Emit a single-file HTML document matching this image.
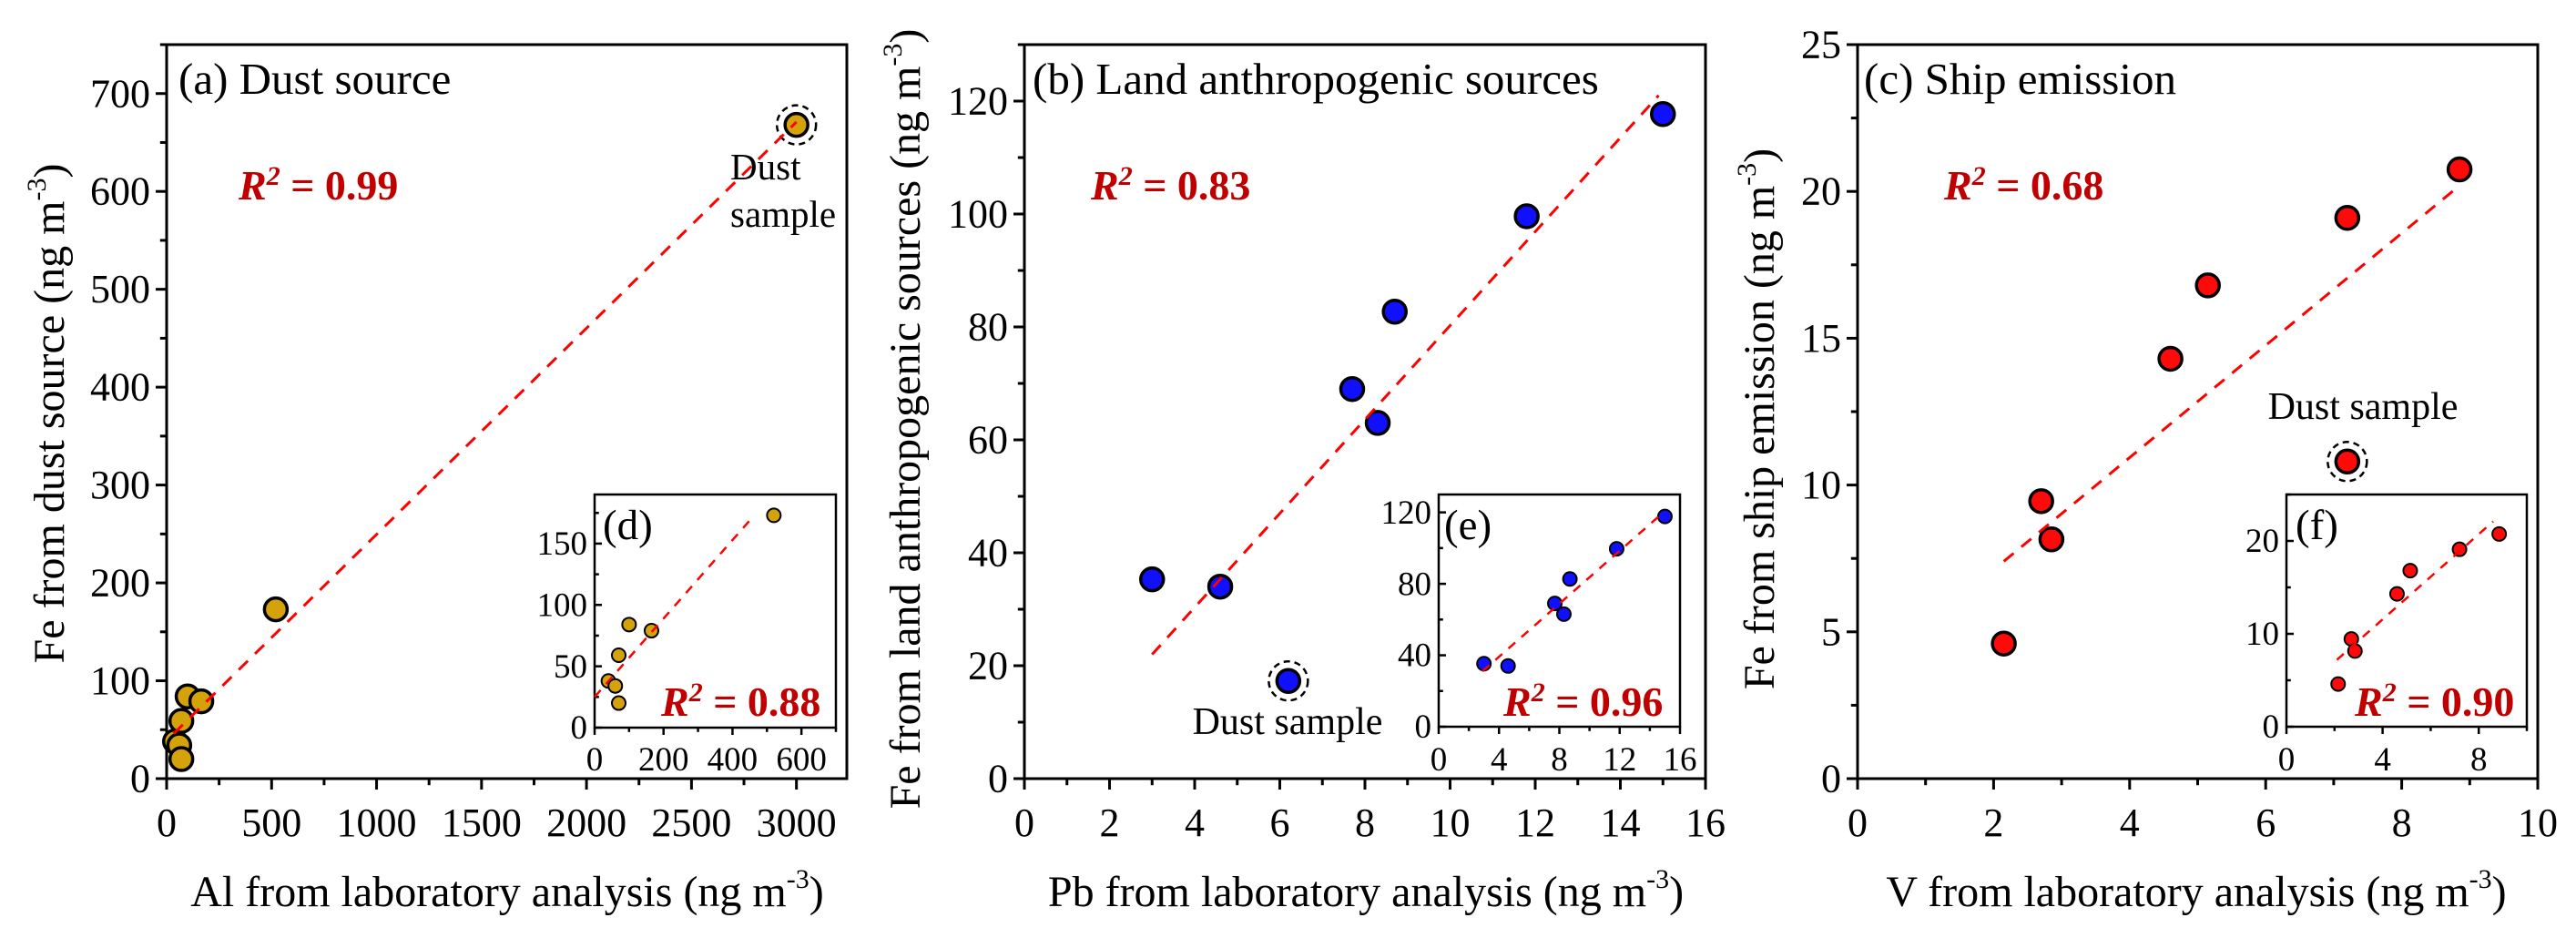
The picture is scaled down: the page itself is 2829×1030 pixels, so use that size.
<!DOCTYPE html>
<html><head><meta charset="utf-8">
<style>
html,body{margin:0;padding:0;background:#fff;}
svg{display:block;font-family:"Liberation Serif",serif;}
</style></head>
<body>
<svg id="fig" width="2829" height="1030" viewBox="0 0 2829 1030"></svg>
<script>
// ---------- data ----------
const aX = [40, 60, 70, 70, 100, 165, 520];
const aY = [38, 34, 20, 59, 84, 79, 173];
const aDustX = [3000];
const aDustY = [668];
const aFitX = [34, 3000];
const aFitY = [46, 671];
const dFitX = [0, 463];
const dFitY = [25, 173];

const bX = [3.0, 4.6, 7.7, 8.3, 8.7, 11.8, 15.0];
const bY = [35.3, 34.0, 69.0, 63.0, 82.7, 99.6, 117.7];
const bDustX = [6.2];
const bDustY = [17.3];
const bFitX = [3.0, 14.9];
const bFitY = [22, 121];
const eFitX = [2.9, 14.9];
const eFitY = [31, 120];

const cX = [2.15, 2.7, 2.85, 4.6, 5.15, 7.2, 8.85];
const cY = [4.6, 9.45, 8.15, 14.3, 16.8, 19.1, 20.75];
const cDustX = [7.2];
const cDustY = [10.8];
const cFitX = [2.15, 8.85];
const cFitY = [7.4, 20.2];
const fFitX = [2.1, 8.6];
const fFitY = [7.2, 22.1];

const aXTicks = [0, 500, 1000, 1500, 2000, 2500, 3000];
const aYTicks = [0, 100, 200, 300, 400, 500, 600, 700];
const bXTicks = [0, 2, 4, 6, 8, 10, 12, 14, 16];
const bYTicks = [0, 20, 40, 60, 80, 100, 120];
const cXTicks = [0, 2, 4, 6, 8, 10];
const cYTicks = [0, 5, 10, 15, 20, 25];
const dXTicks = [0, 200, 400, 600];
const dYTicks = [0, 50, 100, 150];
const eXTicks = [0, 4, 8, 12, 16];
const eYTicks = [0, 40, 80, 120];
const fXTicks = [0, 4, 8];
const fYTicks = [0, 10, 20];

const NS = "http://www.w3.org/2000/svg";
const svg = document.getElementById("fig");
function mk(tag, attrs, parent) {
  const e = document.createElementNS(NS, tag);
  for (const k in attrs) e.setAttribute(k, attrs[k]);
  (parent || svg).appendChild(e);
  return e;
}
function scale(d0, d1, r0, r1) { return v => r0 + (v - d0) / (d1 - d0) * (r1 - r0); }

function axes(g, o) {
  const sx = scale(o.xmin, o.xmax, o.L, o.R);
  const sy = scale(o.ymin, o.ymax, o.B, o.T);
  const fr = mk("rect", {x:o.L, y:o.T, width:o.R-o.L, height:o.B-o.T, fill:"#fff", stroke:"#000", "stroke-width":o.sw}, g);
  
  
  const dirY = o.inY ? 1 : -1;
  o.xt.forEach((v) => {
    const x = sx(v);
    const t = mk("line", {x1:x, x2:x, y1:o.B, y2:o.B + o.tl, stroke:"#000", "stroke-width":o.sw}, g);
    
    
    const lb = mk("text", {x:x, y:o.xlY, "text-anchor":"middle", "font-size":o.fs}, g);
    lb.textContent = v;
    
    
    const step = o.xt[1] - o.xt[0];
    const mv = v + step / 2;
    if (mv <= o.xmax) {
      const mx = sx(mv);
      const m = mk("line", {x1:mx, x2:mx, y1:o.B, y2:o.B + o.tl * 0.6, stroke:"#000", "stroke-width":o.sw}, g);
      
      
    }
  });
  o.yt.forEach((v) => {
    const y = sy(v);
    const t = mk("line", {x1:o.L, x2:o.L + dirY * o.tl, y1:y, y2:y, stroke:"#000", "stroke-width":o.sw}, g);
    
    
    const lb = mk("text", {x:o.L - o.ylGap, y:y + o.fs * 0.33, "text-anchor":"end", "font-size":o.fs}, g);
    lb.textContent = v;
    
    
    const step = o.yt[1] - o.yt[0];
    const mv = v + step / 2;
    if (mv <= o.ymax) {
      const my = sy(mv);
      const m = mk("line", {x1:o.L, x2:o.L + dirY * o.tl * 0.6, y1:my, y2:my, stroke:"#000", "stroke-width":o.sw}, g);
      
      
    }
  });
  return {sx, sy};
}

function points(g, s, xs, ys, r, sw, fill, name) {
  xs.forEach((v, i) => {
    const c = mk("circle", {cx:s.sx(v), cy:s.sy(ys[i]), r:r, fill:fill, stroke:"#000", "stroke-width":sw}, g);
    
    
  });
}
function fit(g, s, xs, ys, w, dash, name) {
  const l = mk("line", {x1:s.sx(xs[0]), y1:s.sy(ys[0]), x2:s.sx(xs[1]), y2:s.sy(ys[1]), stroke:"#ff0000", "stroke-width":w, "stroke-dasharray":dash}, g);
  
  
}
function dust(g, s, xs, ys, r, sw, fill, name) {
  xs.forEach((v, i) => {
    const x = s.sx(v), y = s.sy(ys[i]);
    const ring = mk("circle", {cx:x, cy:y, r:r + 9, fill:"none", stroke:"#000", "stroke-width":2.5, "stroke-dasharray":"7 5"}, g);
    
    
    const c = mk("circle", {cx:x, cy:y, r:r, fill:fill, stroke:"#000", "stroke-width":sw}, g);
    
    
  });
}
function text(g, x, y, str, size, name, extra) {
  const t = mk("text", Object.assign({x:x, y:y, "font-size":size}, extra || {}), g);
  t.textContent = str;
  
  
  return t;
}
function r2(g, x, y, val, name) {
  const t = mk("text", {x:x, y:y, "font-size":46, "font-weight":"bold", fill:"#c00000"}, g);
  
  
  const a = mk("tspan", {"font-style":"italic"}, t); a.textContent = "R";
  const b = mk("tspan", {"font-style":"italic", "font-size":30, dy:-16}, t); b.textContent = "2";
  const c = mk("tspan", {dy:16}, t); c.textContent = " = " + val;
}
function xTitle(g, cx, y, lead, name) {
  const t = mk("text", {x:cx, y:y, "font-size":48, "text-anchor":"middle"}, g);
  
  
  const a = mk("tspan", {}, t); a.textContent = lead + " (ng m";
  const b = mk("tspan", {"font-size":30, dy:-20}, t); b.textContent = "-3";
  const c = mk("tspan", {dy:20}, t); c.textContent = ")";
}
function yTitle(g, x, cy, lead, name) {
  const t = mk("text", {x:0, y:0, "font-size":48, "text-anchor":"middle", transform:`translate(${x},${cy}) rotate(-90)`}, g);
  
  
  const a = mk("tspan", {}, t); a.textContent = lead + " (ng m";
  const b = mk("tspan", {"font-size":30, dy:-20}, t); b.textContent = "-3";
  const c = mk("tspan", {dy:20}, t); c.textContent = ")";
}

const GOLD = "#d4a20a", BLUE = "#1010ff", RED = "#ff0a0a";
const DASH = "14 11", DASHS = "10 9";

// ---------- panel a ----------
{
  const g = mk("g", {});  
  const s = axes(g, {name:"panel-a", L:183, R:930, T:49, B:855, xmin:0, xmax:3240, ymin:0, ymax:750, xt:aXTicks, yt:aYTicks, tl:12, sw:3, fs:44, xlY:918, ylGap:18});
  text(g, 196, 103, "(a) Dust source", 49, "panel-a-title");
  r2(g, 262, 219, "0.99", "panel-a-r-squared");
  points(g, s, aX, aY, 12.5, 3.5, GOLD, "panel-a-point");
  dust(g, s, aDustX, aDustY, 12.5, 3.5, GOLD, "panel-a-dust-sample-point");
  fit(g, s, aFitX, aFitY, 3, DASH, "panel-a-fit-line");
  text(g, 802, 197, "Dust", 41, "panel-a-dust-label");
  text(g, 802, 249, "sample", 41, "panel-a-dust-label-2");
  xTitle(g, 557, 995, "Al from laboratory analysis", "panel-a-x-axis-title");
  yTitle(g, 70, 454, "Fe from dust source", "panel-a-y-axis-title");
  const gi = mk("g", {}, g);  
  const si = axes(gi, {name:"inset-d", L:653, R:918, T:543, B:799, xmin:0, xmax:700, ymin:0, ymax:190, xt:dXTicks, yt:dYTicks, tl:8, sw:2.5, fs:37, xlY:846, ylGap:8, inY:true});
  text(gi, 662, 592, "(d)", 47, "inset-d-label");
  points(gi, si, aX, aY, 7.5, 2, GOLD, "inset-d-point");
  fit(gi, si, dFitX, dFitY, 2.5, DASHS, "inset-d-fit-line");
  r2(gi, 726, 786, "0.88", "inset-d-r-squared");
}
// ---------- panel b ----------
{
  const g = mk("g", {});  
  const s = axes(g, {name:"panel-b", L:1125, R:1873, T:49, B:855, xmin:0, xmax:16, ymin:0, ymax:130, xt:bXTicks, yt:bYTicks, tl:12, sw:3, fs:44, xlY:918, ylGap:18});
  text(g, 1134, 103, "(b) Land anthropogenic sources", 49, "panel-b-title");
  r2(g, 1198, 219, "0.83", "panel-b-r-squared");
  points(g, s, bX, bY, 12.5, 3.5, BLUE, "panel-b-point");
  dust(g, s, bDustX, bDustY, 12.5, 3.5, BLUE, "panel-b-dust-sample-point");
  fit(g, s, bFitX, bFitY, 3, DASH, "panel-b-fit-line");
  text(g, 1414, 806, "Dust sample", 42, "panel-b-dust-label", {"text-anchor":"middle"});
  xTitle(g, 1500, 995, "Pb from laboratory analysis", "panel-b-x-axis-title");
  yTitle(g, 1010, 460, "Fe from land anthropogenic sources", "panel-b-y-axis-title");
  const gi = mk("g", {}, g);  
  const si = axes(gi, {name:"inset-e", L:1580, R:1845, T:543, B:798, xmin:0, xmax:16, ymin:0, ymax:130, xt:eXTicks, yt:eYTicks, tl:8, sw:2.5, fs:37, xlY:846, ylGap:8, inY:true});
  text(gi, 1586, 592, "(e)", 47, "inset-e-label");
  points(gi, si, bX, bY, 7.5, 2, BLUE, "inset-e-point");
  fit(gi, si, eFitX, eFitY, 2.5, DASHS, "inset-e-fit-line");
  r2(gi, 1651, 786, "0.96", "inset-e-r-squared");
}
// ---------- panel c ----------
{
  const g = mk("g", {});  
  const s = axes(g, {name:"panel-c", L:2040, R:2787, T:49, B:855, xmin:0, xmax:10, ymin:0, ymax:25, xt:cXTicks, yt:cYTicks, tl:12, sw:3, fs:44, xlY:918, ylGap:18});
  text(g, 2047, 103, "(c) Ship emission", 49, "panel-c-title");
  r2(g, 2135, 219, "0.68", "panel-c-r-squared");
  points(g, s, cX, cY, 12.5, 3.5, RED, "panel-c-point");
  dust(g, s, cDustX, cDustY, 12.5, 3.5, RED, "panel-c-dust-sample-point");
  fit(g, s, cFitX, cFitY, 3, DASH, "panel-c-fit-line");
  text(g, 2595, 460, "Dust sample", 42, "panel-c-dust-label", {"text-anchor":"middle"});
  xTitle(g, 2412, 995, "V from laboratory analysis", "panel-c-x-axis-title");
  yTitle(g, 1948, 460, "Fe from ship emission", "panel-c-y-axis-title");
  const gi = mk("g", {}, g);  
  const si = axes(gi, {name:"inset-f", L:2511, R:2775, T:543, B:798, xmin:0, xmax:10, ymin:0, ymax:25, xt:fXTicks, yt:fYTicks, tl:8, sw:2.5, fs:37, xlY:846, ylGap:8, inY:true});
  text(gi, 2521, 592, "(f)", 47, "inset-f-label");
  points(gi, si, cX, cY, 7.5, 2, RED, "inset-f-point");
  fit(gi, si, fFitX, fFitY, 2.5, DASHS, "inset-f-fit-line");
  r2(gi, 2586, 786, "0.90", "inset-f-r-squared");
}
</script>
</body></html>
